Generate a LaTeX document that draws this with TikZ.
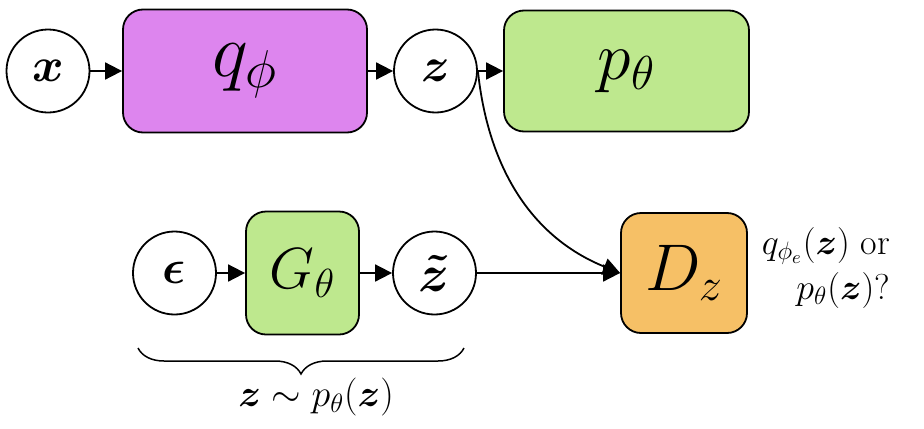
\RequirePackage{fix-cm}
\documentclass[tikz,border=0pt]{standalone}
\usepackage{amsmath,amssymb,bm}
\usetikzlibrary{arrows.meta,positioning,calc,decorations.pathreplacing}
\definecolor{encpurple}{RGB}{221,133,238}
\definecolor{decgreen}{RGB}{190,232,142}
\definecolor{discorange}{RGB}{246,192,102}
\tikzset{
  var/.style={circle, draw=black, line width=0.9pt, fill=white, minimum size=41.5pt, inner sep=0pt, font=\fontsize{24}{28}\selectfont},
  box/.style={draw=black, line width=0.9pt, rounded corners=10pt, inner sep=0pt},
  arrow/.style={-{Triangle[length=8.5pt,width=8.5pt]}, line width=0.9pt},
}
\begin{document}
\begin{tikzpicture}[x=0.5pt,y=-0.5pt]
  \useasboundingbox (0,0) rectangle (924,428);
  % encoder / decoder row
  \node[var] (x) at (48,71) {$\bm x$};
  \node[box, fill=encpurple, minimum width=122pt, minimum height=61.5pt, font=\fontsize{38}{42}\selectfont] (q) at (245,71) {$q_\phi$};
  \node[var] (z) at (435.5,71) {$\bm z$};
  \node[box, fill=decgreen, minimum width=122.5pt, minimum height=60.5pt, font=\fontsize{34}{38}\selectfont] (p) at (626.5,71) {$p_\theta$};
  % generator row
  \node[var] (eps) at (174.5,273) {$\bm\epsilon$};
  \node[box, fill=decgreen, minimum width=56.5pt, minimum height=61.5pt, font=\fontsize{29}{33}\selectfont] (G) at (302.5,273) {$G_\theta$};
  \node[var, font=\fontsize{26}{30}\selectfont] (zt) at (434.5,273) {$\bm{\tilde{z}}$};
  \node[box, fill=discorange, minimum width=63pt, minimum height=60pt, font=\fontsize{33}{37}\selectfont] (D) at (684,273) {$D_z$};
  \node[anchor=east, align=right, font=\fontsize{18}{22.5}\selectfont] (which) at (897,268) {$q_{\phi_e}(\bm z)$ or\\ $p_\theta(\bm z)$?};

  \draw[arrow] (x) -- (q);
  \draw[arrow] (q) -- (z);
  \draw[arrow] (z) -- (p);
  \draw[arrow] (eps) -- (G);
  \draw[arrow] (G) -- (zt);
  \draw[arrow] (zt) -- (D);
  \draw[arrow] (z.east) to[out=-84, in=158] (D.west);

  % prior brace
  \coordinate (bl) at (138,348);
  \coordinate (br) at (464,348);
  \draw[decorate, decoration={brace, mirror, amplitude=13pt}, line width=0.75pt] (bl) -- (br);
  \node[font=\fontsize{19}{23}\selectfont] (prior) at (316,397) {$\bm z \sim p_\theta(\bm z)$};
\end{tikzpicture}
\end{document}
